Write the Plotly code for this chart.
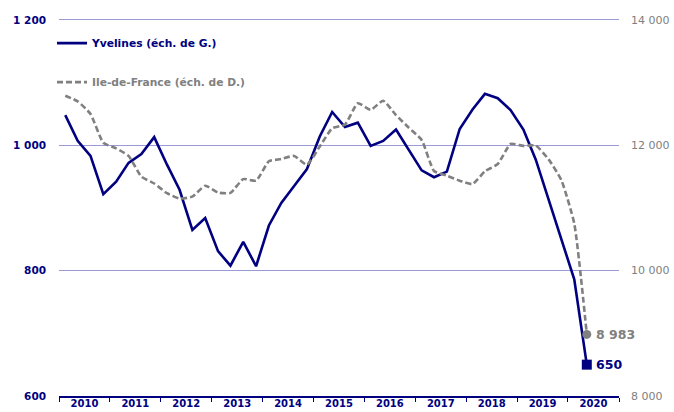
import plotly.graph_objects as go

# ---- data (quarterly, 2010 T1 -> 2020 T2) ----
start_year = 2010
n_quarters = 42
quarters = [f"{start_year + i // 4}-T{i % 4 + 1}" for i in range(n_quarters)]

yvelines = [1048, 1007, 983, 922, 942, 972, 986, 1013,
            969, 929, 865, 884, 831, 808, 846, 807,
            872, 908, 935, 962, 1014, 1053, 1029, 1036,
            999, 1007, 1025, 992, 960, 949, 958, 1026,
            1057, 1082, 1075, 1056, 1025, 977, 913, 849,
            786, 650]

idf = [12790, 12700, 12500, 12040, 11950, 11830, 11500, 11390,
       11235, 11150, 11180, 11355, 11245, 11240, 11460, 11435,
       11745, 11780, 11830, 11690, 11980, 12270, 12330, 12670,
       12565, 12710, 12480, 12280, 12085, 11590, 11515, 11435,
       11380, 11585, 11700, 12020, 11990, 11995, 11775, 11440,
       10750, 8983]

left_ticks = [600, 800, 1000, 1200]
left_ticktext = ["600", "800", "1 000", "1 200"]
right_ticks = [8000, 10000, 12000, 14000]
right_ticktext = ["8 000", "10 000", "12 000", "14 000"]

name_yv = "Yvelines (éch. de G.)"
name_idf = "Ile-de-France (éch. de D.)"

NAVY = "#000080"
GREY = "#808080"
GRID = "#9a9ad8"
FONT = "DejaVu Sans"


def quarter_mid_date(label):
    y, q = label.split("-T")
    month = 3 * (int(q) - 1) + 2
    return f"{y}-{month:02d}-15"


x = [quarter_mid_date(q) for q in quarters]

fig = go.Figure()

fig.add_trace(go.Scatter(
    x=x, y=yvelines, mode="lines", name=name_yv,
    line=dict(color=NAVY, width=2.6),
    legendgroup="a", yaxis="y",
))
fig.add_trace(go.Scatter(
    x=x, y=idf, mode="lines",
    name=f"<span style='color:{GREY}'>{name_idf}</span>",
    line=dict(color=GREY, width=2.6, dash="6px,3px", shape="spline", smoothing=0.5),
    legendgroup="b", yaxis="y2",
))
# end markers
fig.add_trace(go.Scatter(
    x=[x[-1]], y=[yvelines[-1]], mode="markers", showlegend=False,
    marker=dict(symbol="square", size=10, color=NAVY), yaxis="y",
))
fig.add_trace(go.Scatter(
    x=[x[-1]], y=[idf[-1]], mode="markers", showlegend=False,
    marker=dict(symbol="circle", size=9, color=GREY), yaxis="y2",
))


def fmt(v):
    return f"{v:,}".replace(",", " ")


fig.add_annotation(x=x[-1], y=yvelines[-1], yref="y", text=fmt(yvelines[-1]),
                   showarrow=False, xanchor="left", xshift=7,
                   font=dict(family=FONT, size=12.5, color=NAVY, weight="bold"))
fig.add_annotation(x=x[-1], y=idf[-1], yref="y2", text=fmt(idf[-1]),
                   showarrow=False, xanchor="left", xshift=7,
                   font=dict(family=FONT, size=12.5, color=GREY, weight="bold"))

fig.update_layout(
    width=674, height=412,
    margin=dict(l=59, r=55, t=18, b=16, autoexpand=False),
    paper_bgcolor="white", plot_bgcolor="white",
    font=dict(family=FONT, size=10.5, color=NAVY),
    showlegend=True,
    legend=dict(
        x=-0.0125, y=0.972, xanchor="left", yanchor="top",
        bgcolor="rgba(0,0,0,0)", borderwidth=0,
        font=dict(family=FONT, size=10.7, color=NAVY, weight="bold"),
        traceorder="grouped", tracegroupgap=20,
    ),
    xaxis=dict(
        type="date", automargin=False,
        range=["2010-01-01", "2021-01-01"],
        tick0="2010-01-01", dtick="M12",
        ticklabelmode="period", tickformat="%Y",
        ticks="outside", ticklen=4, tickcolor=NAVY, tickwidth=1,
        showline=True, linecolor=NAVY, linewidth=1.5,
        showgrid=False, zeroline=False,
        tickfont=dict(family=FONT, size=10, color=NAVY, weight="bold"),
        ticklabelstandoff=-7,
    ),
    yaxis=dict(
        automargin=False,
        range=[600, 1203], tickvals=left_ticks, ticktext=left_ticktext,
        showgrid=True, gridcolor=GRID, gridwidth=1,
        zeroline=False, showline=False, ticks="",
        tickfont=dict(family=FONT, size=10.5, color=NAVY, weight="bold"),
        ticklabelstandoff=12,
    ),
    yaxis2=dict(
        automargin=False,
        range=[8000, 14030], tickvals=right_ticks, ticktext=right_ticktext,
        overlaying="y", side="right",
        showgrid=False, zeroline=False, showline=False, ticks="",
        tickfont=dict(family=FONT, size=11, color=GREY),
        ticklabelstandoff=11,
    ),
)

# remove the browser's default 8px body margin so the figure fills the window
fig.write_html(
    "out.html",
    config={"displayModeBar": False},
    post_script="document.body.style.margin='0';document.body.style.overflow='hidden';",
)
